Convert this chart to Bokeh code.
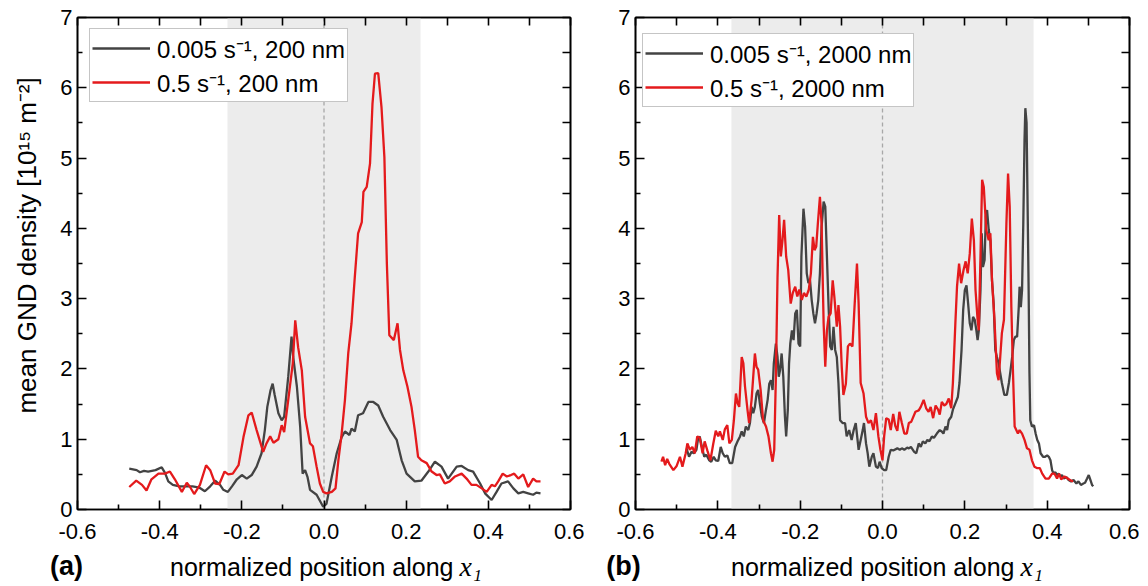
import math
from bokeh.plotting import figure
from bokeh.models import (Range1d, LinearAxis, FixedTicker, PrintfTickFormatter, Label,
                          Span, BoxAnnotation, Legend, LegendItem)
from bokeh.layouts import row, column
from bokeh.embed import file_html
from bokeh.resources import INLINE

# ---------------- data ----------------
x_ticks = [-0.6, -0.4, -0.2, 0.0, 0.2, 0.4, 0.6]
x_minor = [-0.5, -0.3, -0.1, 0.1, 0.3, 0.5]
y_ticks = [0, 1, 2, 3, 4, 5, 6, 7]
y_minor = [0.5, 1.5, 2.5, 3.5, 4.5, 5.5, 6.5]

band_a = 0.235
band_b = 0.367

labels_a = ["0.005 s\u207b\u00b9, 200 nm", "0.5 s\u207b\u00b9, 200 nm"]
labels_b = ["0.005 s\u207b\u00b9, 2000 nm", "0.5 s\u207b\u00b9, 2000 nm"]
y_title = "mean GND density [10\u00b9\u2075 m\u207b\u00b2]"
x_title = "normalized position along"
tags = ["(a)", "(b)"]

# panel (a): 0.005 1/s, 200 nm
a_slow_x = [-0.474, -0.456, -0.448, -0.438, -0.428, -0.41, -0.395, -0.387, -0.379, -0.368,
            -0.352, -0.336, -0.32, -0.303, -0.29, -0.277, -0.265, -0.253, -0.245, -0.234,
            -0.224, -0.212, -0.2, -0.188, -0.176, -0.164, -0.152, -0.144, -0.138, -0.13,
            -0.125, -0.12, -0.111, -0.103, -0.097, -0.087, -0.079, -0.075, -0.066, -0.058,
            -0.052, -0.046, -0.040, -0.034, -0.018, -0.002, 0.006, 0.019, 0.031, 0.043,
            0.051, 0.062, 0.067, 0.075, 0.083, 0.095, 0.108, 0.120, 0.132, 0.144,
            0.161, 0.177, 0.189, 0.201, 0.221, 0.237, 0.254, 0.270, 0.286, 0.302,
            0.323, 0.335, 0.351, 0.363, 0.380, 0.392, 0.408, 0.420, 0.432, 0.448,
            0.461, 0.473, 0.485, 0.497, 0.509, 0.517, 0.527]
a_slow_y = [0.58, 0.56, 0.53, 0.55, 0.54, 0.56, 0.60, 0.52, 0.40, 0.35,
            0.33, 0.33, 0.33, 0.31, 0.26, 0.33, 0.41, 0.35, 0.28, 0.25,
            0.33, 0.43, 0.49, 0.44, 0.49, 0.61, 0.80, 1.13, 1.46, 1.70,
            1.79, 1.63, 1.37, 1.27, 1.32, 1.89, 2.46, 2.17, 1.75, 1.18,
            0.51, 0.56, 0.46, 0.28, 0.21, 0.04, 0.08, 0.47, 0.80, 1.03,
            1.11, 1.06, 1.15, 1.11, 1.34, 1.37, 1.53, 1.53, 1.48, 1.32,
            1.13, 0.99, 0.70, 0.51, 0.40, 0.41, 0.54, 0.68, 0.61, 0.44,
            0.61, 0.62, 0.56, 0.54, 0.37, 0.23, 0.135, 0.25, 0.37, 0.40,
            0.30, 0.23, 0.25, 0.23, 0.21, 0.24, 0.23]

# panel (a): 0.5 1/s, 200 nm
a_fast_x = [-0.474, -0.457, -0.443, -0.432, -0.420, -0.403, -0.387, -0.375, -0.363, -0.346,
            -0.334, -0.326, -0.316, -0.302, -0.287, -0.277, -0.265, -0.255, -0.242, -0.233,
            -0.222, -0.208, -0.196, -0.184, -0.176, -0.164, -0.148, -0.140, -0.131, -0.123,
            -0.111, -0.103, -0.097, -0.087, -0.076, -0.070, -0.063, -0.054, -0.046, -0.034,
            -0.027, -0.018, -0.010, -0.002, 0.006, 0.019, 0.028, 0.035, 0.043, 0.051,
            0.059, 0.067, 0.075, 0.083, 0.092, 0.096, 0.104, 0.112, 0.118, 0.124,
            0.132, 0.140, 0.147, 0.153, 0.159, 0.170, 0.179, 0.185, 0.193, 0.203,
            0.213, 0.221, 0.229, 0.237, 0.250, 0.262, 0.274, 0.282, 0.294, 0.306,
            0.319, 0.335, 0.347, 0.359, 0.371, 0.384, 0.396, 0.408, 0.416, 0.424,
            0.435, 0.445, 0.455, 0.463, 0.473, 0.485, 0.497, 0.509, 0.517, 0.527]
a_fast_y = [0.32, 0.41, 0.35, 0.27, 0.43, 0.51, 0.51, 0.54, 0.43, 0.25,
            0.38, 0.32, 0.22, 0.35, 0.63, 0.56, 0.37, 0.36, 0.54, 0.50,
            0.51, 0.63, 1.03, 1.34, 1.38, 1.13, 0.82, 0.94, 1.04, 0.95,
            1.00, 1.20, 1.10, 1.56, 2.08, 2.69, 2.31, 1.98, 1.32, 0.94,
            0.90, 0.61, 0.37, 0.25, 0.23, 0.25, 0.30, 0.70, 1.08, 1.56,
            2.22, 2.65, 3.31, 3.93, 4.09, 4.52, 4.59, 4.92, 5.77, 6.20,
            6.21, 5.72, 5.01, 3.50, 2.48, 2.41, 2.65, 2.27, 1.98, 1.75,
            1.46, 1.13, 0.75, 0.70, 0.66, 0.54, 0.49, 0.50, 0.37, 0.40,
            0.47, 0.51, 0.44, 0.35, 0.35, 0.30, 0.25, 0.35, 0.33, 0.40,
            0.51, 0.47, 0.49, 0.51, 0.44, 0.50, 0.32, 0.44, 0.40, 0.40]

# panel (b): 0.005 1/s, 2000 nm
b_slow_x = [-0.476, -0.470, -0.464, -0.458, -0.452, -0.448, -0.444, -0.439, -0.433, -0.428,
            -0.421, -0.416, -0.410, -0.405, -0.399, -0.393, -0.388, -0.383, -0.377, -0.371,
            -0.365, -0.358, -0.352, -0.346, -0.342, -0.337, -0.332, -0.326, -0.322, -0.318,
            -0.314, -0.310, -0.306, -0.302, -0.298, -0.293, -0.288, -0.283, -0.279, -0.275,
            -0.271, -0.267, -0.264, -0.259, -0.255, -0.252, -0.249, -0.245, -0.241, -0.237,
            -0.234, -0.230, -0.227, -0.224, -0.220, -0.216, -0.212, -0.208, -0.204, -0.200,
            -0.197, -0.192, -0.188, -0.184, -0.180, -0.176, -0.172, -0.168, -0.164, -0.160,
            -0.156, -0.152, -0.148, -0.143, -0.139, -0.135, -0.131, -0.127, -0.123, -0.119,
            -0.115, -0.111, -0.107, -0.103, -0.097, -0.091, -0.087, -0.081, -0.075, -0.070,
            -0.065, -0.058, -0.053, -0.048, -0.045, -0.040, -0.036, -0.032, -0.026, -0.022,
            -0.016, -0.011, -0.007, -0.002, 0.004, 0.009, 0.015, 0.020, 0.026, 0.036,
            0.042, 0.047, 0.053, 0.060, 0.064, 0.069, 0.077, 0.082, 0.088, 0.093,
            0.098, 0.104, 0.109, 0.114, 0.120, 0.125, 0.132, 0.139, 0.144, 0.148,
            0.153, 0.157, 0.161, 0.167, 0.171, 0.177, 0.183, 0.187, 0.192, 0.196,
            0.200, 0.204, 0.208, 0.212, 0.216, 0.220, 0.224, 0.228, 0.231, 0.234,
            0.238, 0.241, 0.244, 0.248, 0.251, 0.254, 0.258, 0.262, 0.266, 0.270,
            0.274, 0.278, 0.282, 0.286, 0.290, 0.296, 0.302, 0.307, 0.311, 0.315,
            0.319, 0.323, 0.327, 0.331, 0.333, 0.336, 0.339, 0.342, 0.345, 0.347,
            0.350, 0.352, 0.355, 0.357, 0.359, 0.363, 0.368, 0.372, 0.376, 0.380,
            0.384, 0.390, 0.395, 0.400, 0.404, 0.408, 0.412, 0.416, 0.420, 0.424,
            0.428, 0.432, 0.436, 0.440, 0.447, 0.452, 0.458, 0.464, 0.471, 0.476,
            0.482, 0.488, 0.492, 0.497, 0.501, 0.505, 0.509, 0.512]
b_slow_y = [0.87, 0.75, 0.82, 0.80, 0.85, 1.01, 1.04, 0.90, 0.75, 0.78,
            0.70, 0.68, 0.75, 0.70, 0.69, 0.89, 0.80, 0.75, 0.77, 0.66,
            0.66, 0.89, 0.97, 1.04, 1.11, 1.04, 1.18, 1.13, 1.23, 1.46,
            1.37, 1.46, 1.65, 1.70, 1.51, 1.32, 1.23, 1.42, 1.56, 1.79,
            1.84, 1.70, 2.08, 2.36, 2.17, 1.89, 1.98, 2.22, 1.89, 1.32,
            1.04, 1.42, 2.08, 2.36, 2.55, 2.41, 2.79, 2.84, 2.36, 2.32,
            3.60, 4.28, 4.02, 3.36, 3.22, 3.26, 2.98, 2.79, 2.65, 2.79,
            2.98, 3.36, 4.02, 4.38, 4.31, 3.60, 2.89, 2.32, 2.27, 2.60,
            2.27, 2.17, 1.80, 1.27, 1.23, 1.23, 1.04, 1.13, 0.99, 1.13,
            1.23, 0.85, 0.99, 1.13, 1.23, 0.94, 0.80, 0.61, 0.75, 0.80,
            0.61, 0.59, 0.68, 0.59, 0.56, 0.56, 0.75, 0.85, 0.84, 0.87,
            0.85, 0.87, 0.85, 0.88, 0.87, 0.89, 0.82, 0.80, 0.94, 0.89,
            0.97, 0.94, 0.99, 0.97, 1.04, 1.02, 1.08, 1.13, 1.11, 1.08,
            1.18, 1.13, 1.27, 1.32, 1.42, 1.51, 1.60, 1.80, 2.27, 2.84,
            3.12, 3.19, 2.93, 2.65, 2.55, 2.74, 2.70, 2.55, 2.41, 2.55,
            3.12, 3.93, 3.45, 3.55, 4.17, 4.26, 3.98, 3.83, 3.26, 2.93,
            2.27, 2.17, 2.08, 1.94, 1.80, 1.63, 1.63, 1.80, 1.98, 2.17,
            2.41, 2.46, 2.46, 2.88, 3.17, 2.88, 3.12, 4.07, 5.26, 5.71,
            5.50, 4.55, 3.12, 1.94, 1.27, 1.18, 1.20, 1.08, 0.99, 0.94,
            0.80, 0.75, 0.75, 0.77, 0.75, 0.70, 0.56, 0.51, 0.53, 0.49,
            0.51, 0.47, 0.49, 0.44, 0.46, 0.42, 0.40, 0.42, 0.37, 0.40,
            0.35, 0.37, 0.38, 0.44, 0.49, 0.42, 0.35, 0.33]

# panel (b): 0.5 1/s, 2000 nm
b_fast_x = [-0.537, -0.533, -0.528, -0.523, -0.518, -0.508, -0.500, -0.492, -0.486, -0.478,
            -0.474, -0.468, -0.462, -0.456, -0.450, -0.444, -0.437, -0.432, -0.425, -0.418,
            -0.411, -0.405, -0.399, -0.395, -0.388, -0.383, -0.377, -0.372, -0.366, -0.361,
            -0.356, -0.352, -0.348, -0.342, -0.338, -0.334, -0.328, -0.324, -0.318, -0.314,
            -0.310, -0.306, -0.302, -0.296, -0.290, -0.283, -0.277, -0.271, -0.267, -0.263,
            -0.259, -0.255, -0.251, -0.247, -0.243, -0.239, -0.234, -0.229, -0.223, -0.218,
            -0.212, -0.207, -0.202, -0.196, -0.191, -0.185, -0.179, -0.174, -0.169, -0.165,
            -0.161, -0.157, -0.152, -0.148, -0.143, -0.139, -0.135, -0.131, -0.126, -0.121,
            -0.117, -0.111, -0.107, -0.103, -0.099, -0.095, -0.089, -0.084, -0.079, -0.073,
            -0.068, -0.062, -0.058, -0.053, -0.046, -0.040, -0.034, -0.028, -0.022, -0.016,
            -0.010, -0.005, 0.0, 0.004, 0.009, 0.015, 0.020, 0.026, 0.031, 0.036,
            0.041, 0.047, 0.053, 0.059, 0.064, 0.070, 0.080, 0.088, 0.093, 0.100,
            0.106, 0.112, 0.117, 0.123, 0.129, 0.135, 0.139, 0.144, 0.150, 0.155,
            0.161, 0.167, 0.171, 0.177, 0.181, 0.186, 0.191, 0.197, 0.202, 0.207,
            0.212, 0.217, 0.222, 0.226, 0.231, 0.234, 0.238, 0.242, 0.246, 0.252,
            0.258, 0.262, 0.266, 0.272, 0.278, 0.282, 0.286, 0.290, 0.295, 0.301,
            0.305, 0.309, 0.313, 0.317, 0.321, 0.325, 0.329, 0.333, 0.339, 0.345,
            0.351, 0.357, 0.363, 0.369, 0.375, 0.382, 0.388, 0.396, 0.404, 0.412,
            0.418, 0.424, 0.429, 0.434, 0.442, 0.450, 0.458, 0.463]
b_fast_y = [0.68, 0.75, 0.63, 0.72, 0.65, 0.56, 0.62, 0.75, 0.61, 0.80,
            0.94, 0.85, 0.89, 0.80, 1.04, 1.02, 0.80, 0.97, 0.83, 0.70,
            0.94, 1.12, 1.04, 1.11, 0.99, 1.14, 1.20, 0.94, 0.99, 1.27,
            1.65, 1.51, 1.46, 2.17, 2.08, 1.75, 1.42, 1.23, 1.56, 1.89,
            2.22, 2.03, 1.99, 1.70, 1.27, 1.18, 1.04, 0.80, 0.68, 0.85,
            1.89, 3.31, 4.19, 3.60, 3.83, 4.12, 3.60, 3.41, 2.93, 3.08,
            3.17, 3.03, 3.13, 2.98, 3.08, 3.03, 3.13, 3.36, 3.88, 3.69,
            3.74, 4.07, 4.45, 4.07, 2.65, 2.03, 2.55, 2.74, 2.79, 3.26,
            3.03, 2.60, 2.91, 2.60, 2.03, 1.63, 1.79, 2.32, 2.36, 2.32,
            2.88, 3.50, 2.93, 1.80, 1.65, 1.32, 1.23, 1.27, 1.13, 1.37,
            1.04, 0.85, 0.70, 1.04, 1.30, 1.28, 1.13, 1.36, 1.19, 1.12,
            1.39, 1.23, 1.08, 1.08, 1.23, 1.25, 1.39, 1.41, 1.46, 1.56,
            1.44, 1.39, 1.46, 1.30, 1.48, 1.42, 1.35, 1.53, 1.48, 1.50,
            1.58, 1.44, 1.80, 2.65, 3.17, 3.50, 3.22, 3.41, 3.53, 3.36,
            3.64, 4.14, 3.83, 3.12, 2.70, 2.55, 3.60, 4.69, 4.59, 3.98,
            3.83, 3.93, 3.26, 2.70, 1.94, 1.84, 2.17, 2.51, 2.70, 4.07,
            4.78, 4.31, 2.88, 1.94, 1.18, 1.13, 1.08, 1.13, 1.08, 0.99,
            0.87, 0.85, 0.70, 0.61, 0.59, 0.59, 0.51, 0.44, 0.44, 0.51,
            0.51, 0.44, 0.51, 0.43, 0.47, 0.44, 0.41, 0.40]

# ---------------- styling ----------------
GRAY = "#434343"
RED = "#e41a1c"
SANS = "Liberation Sans"
SERIF = "Liberation Serif"
BORDER_BOTTOM = 42
TOP_H = 17 + 492 + BORDER_BOTTOM   # height of the chart row
BOT_H = 34                         # height of the caption row


def style_axis(ax, fmt, ticks, minor, standoff):
    ax.ticker = FixedTicker(ticks=ticks, minor_ticks=minor)
    ax.formatter = PrintfTickFormatter(format=fmt)
    ax.axis_line_color = "black"
    ax.axis_line_width = 1.6
    ax.major_tick_in = 9
    ax.major_tick_out = 0
    ax.minor_tick_in = 5
    ax.minor_tick_out = 0
    ax.major_tick_line_color = "black"
    ax.minor_tick_line_color = "black"
    ax.major_tick_line_width = 1.6
    ax.minor_tick_line_width = 1.6
    ax.major_label_text_font = SANS
    ax.major_label_text_color = "black"
    ax.major_label_text_font_size = "22px"
    ax.major_label_standoff = standoff


def mirror_axis(all_ticks):
    # tick marks only (no labels) on the top / right edges
    ax = LinearAxis(ticker=FixedTicker(ticks=[], minor_ticks=all_ticks))
    ax.axis_line_color = "black"
    ax.axis_line_width = 1.6
    ax.minor_tick_in = 8
    ax.minor_tick_out = 0
    ax.minor_tick_line_color = "black"
    ax.minor_tick_line_width = 1.6
    return ax


def make_panel(sx, sy, fx, fy, labels, band, legend_loc, border_left, border_right,
               fwidth, ylabel):
    p = figure(frame_width=fwidth, frame_height=492, title=None,
               x_range=Range1d(-0.6, 0.6), y_range=Range1d(0, 7),
               output_backend="svg", toolbar_location=None,
               min_border_left=border_left, min_border_right=border_right,
               min_border_top=17, min_border_bottom=BORDER_BOTTOM)
    p.grid.visible = False
    p.outline_line_color = "black"
    p.outline_line_width = 1.6
    p.background_fill_color = "white"
    p.border_fill_color = "white"

    style_axis(p.xaxis[0], "%.1f", x_ticks, x_minor, 14)
    style_axis(p.yaxis[0], "%d", y_ticks, y_minor, 5)
    p.add_layout(mirror_axis(sorted(x_ticks + x_minor)), "above")
    p.add_layout(mirror_axis(sorted(y_ticks + y_minor)), "right")

    if ylabel:
        yax = p.yaxis[0]
        yax.axis_label = "\u00a0" * 5 + ylabel
        yax.axis_label_text_font = SANS
        yax.axis_label_text_font_style = "normal"
        yax.axis_label_text_font_size = "26px"
        yax.axis_label_text_color = "black"
        yax.axis_label_standoff = 15

    box = BoxAnnotation(left=-band, right=band, fill_color="#ececec", fill_alpha=1.0,
                        line_alpha=0, level="underlay")
    p.add_layout(box)
    span = Span(location=0, dimension="height", line_color="#a8a8a8", line_width=1.3,
                line_dash="4 3", level="underlay")
    p.add_layout(span)

    r1 = p.line(sx, sy, line_color=GRAY, line_width=2.3)
    r2 = p.line(fx, fy, line_color=RED, line_width=2.3)

    leg = Legend(items=[LegendItem(label=labels[0], renderers=[r1]),
                        LegendItem(label=labels[1], renderers=[r2])],
                 location=legend_loc, orientation="vertical",
                 glyph_width=58, glyph_height=34, label_height=34,
                 label_standoff=7, padding=2, spacing=0, margin=0,
                 border_line_color="#8c8c8c", border_line_width=1.2,
                 background_fill_color="white", background_fill_alpha=1.0,
                 label_text_font=SANS, label_text_font_size="24px",
                 label_text_color="black")
    p.add_layout(leg)
    return p


def caption(width, tag, tag_x, title_right):
    # a plain strip under each panel holding "(a)"/"(b)" and the x title
    c = figure(frame_width=width, frame_height=BOT_H, title=None,
               x_range=Range1d(0, width), y_range=Range1d(BOT_H, 0),
               x_axis_type=None, y_axis_type=None,
               output_backend="svg", toolbar_location=None,
               min_border=0)
    c.grid.visible = False
    c.outline_line_color = None
    c.background_fill_color = "white"
    c.border_fill_color = "white"
    mid = 566 - TOP_H
    c.add_layout(Label(x=tag_x, y=mid - 0.5, text=tag,
                       text_align="center", text_baseline="middle",
                       text_font=SANS, text_font_style="bold",
                       text_font_size="27px", text_color="black"))
    c.add_layout(Label(x=title_right, y=mid, text=x_title, text_align="right",
                       text_baseline="middle", text_font=SANS,
                       text_font_size="25px", text_color="black"))
    c.add_layout(Label(x=title_right + 6, y=mid, text="x", text_align="left",
                       text_baseline="middle", text_font=SERIF,
                       text_font_style="italic", text_font_size="28px",
                       text_color="black"))
    c.add_layout(Label(x=title_right + 20, y=mid + 9, text="1", text_align="left",
                       text_baseline="middle", text_font=SERIF,
                       text_font_style="italic", text_font_size="17px",
                       text_color="black"))
    return c


pa = make_panel(a_slow_x, a_slow_y, a_fast_x, a_fast_y, labels_a, band_a,
                (12, 407), 77, 14, 493, y_title)
pb = make_panel(b_slow_x, b_slow_y, b_fast_x, b_fast_y, labels_b, band_b,
                (7, 402), 51, 10, 494, None)

ca = caption(77 + 493 + 14, tags[0], 66, 453)
cb = caption(51 + 494 + 10, tags[1], 623 - 584, 1014 - 584)

layout = column(row(pa, pb, spacing=0), row(ca, cb, spacing=0), spacing=0)
open("out.html", "w").write(file_html(layout, INLINE))
